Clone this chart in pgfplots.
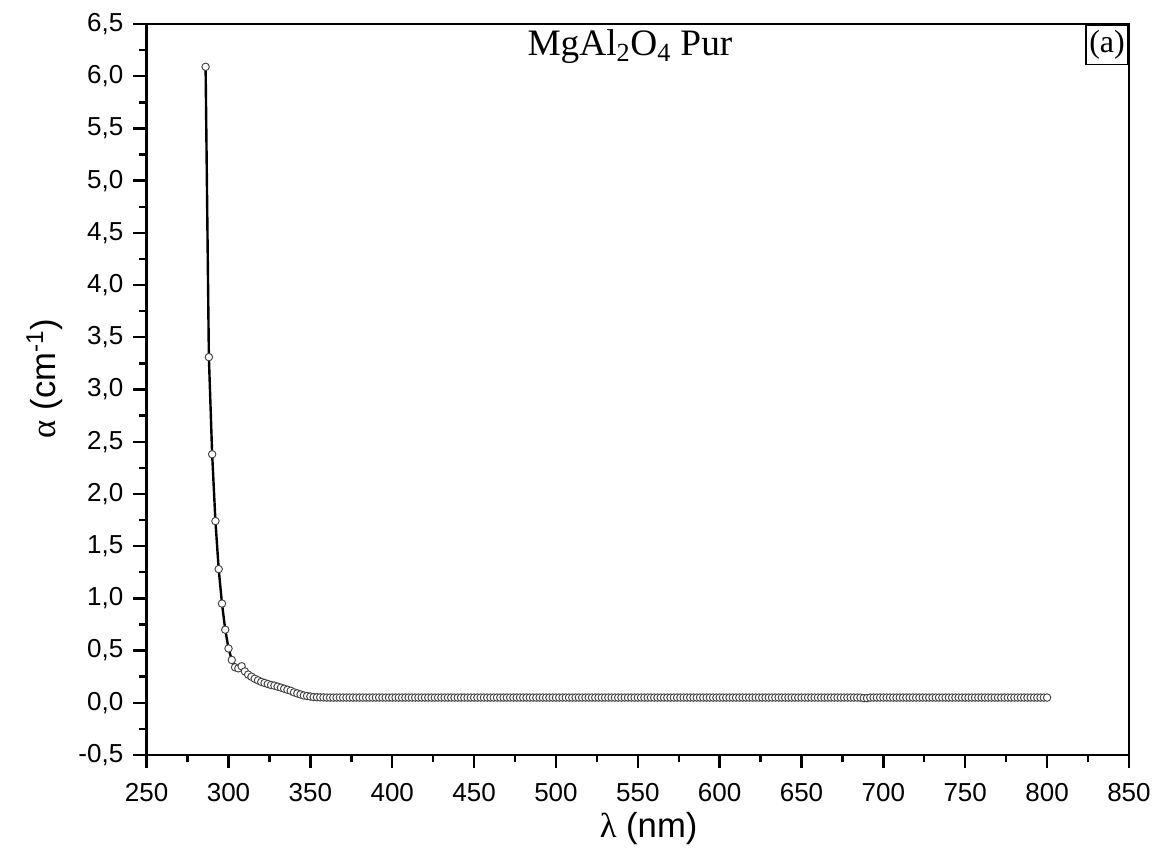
\documentclass[border=0pt]{standalone}
\usepackage{pgfplots}
\pgfplotsset{compat=1.18}
\usepackage{fontspec}
\setmainfont{Liberation Sans}
\newfontfamily\serif{Liberation Serif}
\begin{document}
\begin{tikzpicture}
\useasboundingbox (-110pt,-70.5pt) rectangle (760pt,566.25pt);
\begin{axis}[
  at={(0,0)}, anchor=south west,
  scale only axis, width=736.7pt, height=548.25pt,
  xmin=250, xmax=850, ymin=-0.5, ymax=6.5,
  xtick={250,300,...,850},
  ytick={-0.5,0,0.5,1,1.5,2,2.5,3,3.5,4,4.5,5,5.5,6,6.5},
  minor x tick num=1, minor y tick num=1,
  tick pos=left, tick align=outside,
  major tick length=10pt, minor tick length=5.5pt,
  axis line style={line width=2pt},
  every tick/.style={line width=1.8pt, black},
  ticklabel style={font=\fontsize{19.5}{22}\selectfont},
  xticklabel style={/pgf/number format/assume math mode=true, yshift=-8pt},
  yticklabel style={/pgf/number format/.cd, fixed, fixed zerofill, precision=1, use comma, assume math mode=true, /tikz/xshift=-4pt},
  xlabel={{\serif λ} (nm)},
  xlabel style={at={(rel axis cs:0.511,-0.101)}, anchor=center, font=\fontsize{26}{30}\selectfont},
  ylabel={{\serif α} (cm\textsuperscript{-1})},
  ylabel style={at={(rel axis cs:-0.104,0.515)}, anchor=center, font=\fontsize{26}{30}\selectfont},
  clip=false,
]
\addplot[black, line width=1.8pt, mark=*, mark size=2.8pt,
  mark options={fill=white, draw=black!75, line width=0.7pt, solid}]
coordinates {
(286,6.09)(288,3.31)(290,2.38)(292,1.74)(294,1.28)(296,0.95)(298,0.70)(300,0.52)(302,0.41)(304,0.34)
(306,0.33)(308,0.35)(310,0.30)(312,0.27)(314,0.25)(316,0.23)(318,0.215)(320,0.20)(322,0.19)(324,0.18)
(326,0.17)(328,0.165)(330,0.155)(332,0.145)(334,0.135)(336,0.125)(338,0.115)(340,0.10)(342,0.09)(344,0.08)
(346,0.07)(348,0.065)(350,0.06)(352,0.055)(354,0.053)(356,0.052)(358,0.051)(360,0.05)
(362,0.05)(364,0.05)(366,0.05)(368,0.05)(370,0.05)(372,0.05)(374,0.05)(376,0.05)(378,0.05)(380,0.05)
(382,0.05)(384,0.05)(386,0.05)(388,0.05)(390,0.05)(392,0.05)(394,0.05)(396,0.05)(398,0.05)(400,0.05)
(402,0.05)(404,0.05)(406,0.05)(408,0.05)(410,0.05)(412,0.05)(414,0.05)(416,0.05)(418,0.05)(420,0.05)
(422,0.05)(424,0.05)(426,0.05)(428,0.05)(430,0.05)(432,0.05)(434,0.05)(436,0.05)(438,0.05)(440,0.05)
(442,0.05)(444,0.05)(446,0.05)(448,0.05)(450,0.05)(452,0.05)(454,0.05)(456,0.05)(458,0.05)(460,0.05)
(462,0.05)(464,0.05)(466,0.05)(468,0.05)(470,0.05)(472,0.05)(474,0.05)(476,0.05)(478,0.05)(480,0.05)
(482,0.05)(484,0.05)(486,0.05)(488,0.05)(490,0.05)(492,0.05)(494,0.05)(496,0.05)(498,0.05)(500,0.05)
(502,0.05)(504,0.05)(506,0.05)(508,0.05)(510,0.05)(512,0.05)(514,0.05)(516,0.05)(518,0.05)(520,0.05)
(522,0.05)(524,0.05)(526,0.05)(528,0.05)(530,0.05)(532,0.05)(534,0.05)(536,0.05)(538,0.05)(540,0.05)
(542,0.05)(544,0.05)(546,0.05)(548,0.05)(550,0.05)(552,0.05)(554,0.05)(556,0.05)(558,0.05)(560,0.05)
(562,0.05)(564,0.05)(566,0.05)(568,0.05)(570,0.05)(572,0.05)(574,0.05)(576,0.05)(578,0.05)(580,0.05)
(582,0.05)(584,0.05)(586,0.05)(588,0.05)(590,0.05)(592,0.05)(594,0.05)(596,0.05)(598,0.05)(600,0.05)
(602,0.05)(604,0.05)(606,0.05)(608,0.05)(610,0.05)(612,0.05)(614,0.05)(616,0.05)(618,0.05)(620,0.05)
(622,0.05)(624,0.05)(626,0.05)(628,0.05)(630,0.05)(632,0.05)(634,0.05)(636,0.05)(638,0.05)(640,0.05)
(642,0.05)(644,0.05)(646,0.05)(648,0.05)(650,0.05)(652,0.05)(654,0.05)(656,0.05)(658,0.05)(660,0.05)
(662,0.05)(664,0.05)(666,0.05)(668,0.05)(670,0.05)(672,0.05)(674,0.05)(676,0.05)(678,0.05)(680,0.05)
(682,0.05)(684,0.05)(686,0.05)(688,0.045)(690,0.045)(692,0.05)(694,0.05)(696,0.05)(698,0.05)(700,0.05)
(702,0.05)(704,0.05)(706,0.05)(708,0.05)(710,0.05)(712,0.05)(714,0.05)(716,0.05)(718,0.05)(720,0.05)
(722,0.05)(724,0.05)(726,0.05)(728,0.05)(730,0.05)(732,0.05)(734,0.05)(736,0.05)(738,0.05)(740,0.05)
(742,0.05)(744,0.05)(746,0.05)(748,0.05)(750,0.05)(752,0.05)(754,0.05)(756,0.05)(758,0.05)(760,0.05)
(762,0.05)(764,0.05)(766,0.05)(768,0.05)(770,0.05)(772,0.05)(774,0.05)(776,0.05)(778,0.05)(780,0.05)
(782,0.05)(784,0.05)(786,0.05)(788,0.05)(790,0.05)(792,0.05)(794,0.05)(796,0.05)(798,0.05)(800,0.05)
};
\node[font=\serif\fontsize{28}{32}\selectfont] at (rel axis cs:0.492,0.9685) {MgAl\textsubscript{2}O\textsubscript{4} Pur};
\node[draw, line width=1.2pt, anchor=north east, inner xsep=2.5pt, inner ysep=4pt, font=\serif\fontsize{24}{28}\selectfont] at (rel axis cs:1,1) {(a)};
\end{axis}
\end{tikzpicture}
\end{document}
